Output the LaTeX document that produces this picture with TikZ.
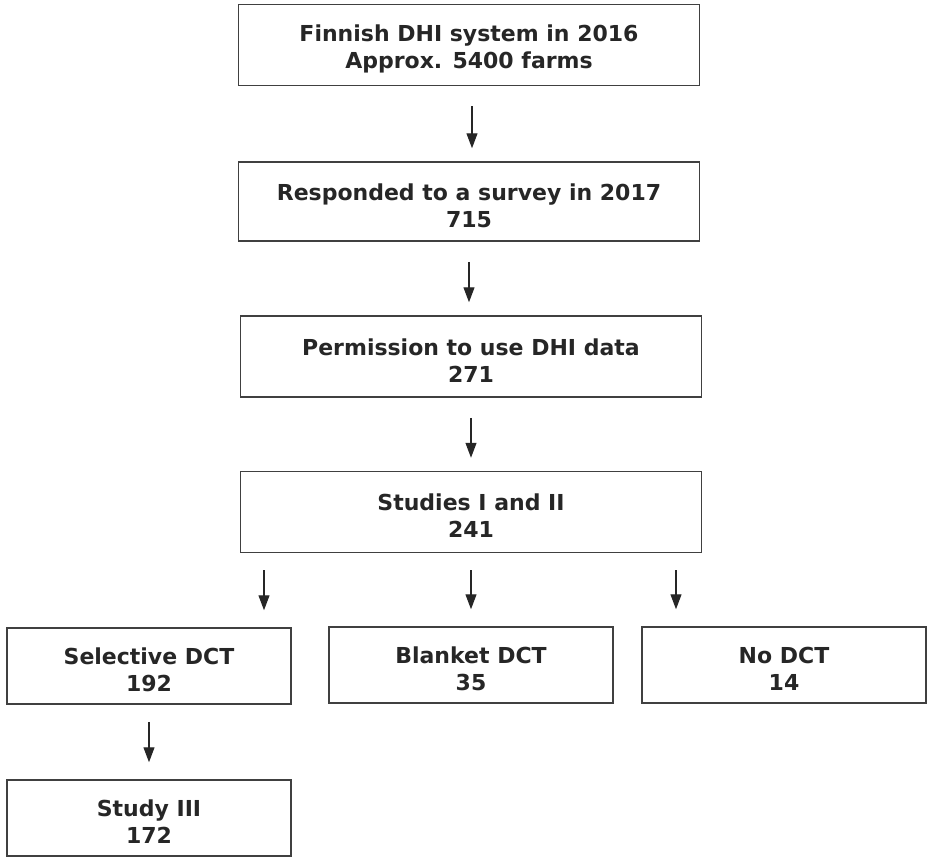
\documentclass[tikz,border=0pt]{standalone}
\usepackage{fontspec}
\setmainfont{DejaVu Sans}
\usetikzlibrary{arrows.meta}
\definecolor{boxline}{HTML}{404040}
\definecolor{boxtext}{HTML}{262626}
\newcommand{\lift}{\rule{0pt}{24.5pt}}
\tikzset{
    box/.style={draw=boxline,line width=1.5pt,inner sep=0pt,align=center,
        text=boxtext,font=\bfseries\fontsize{22}{27}\selectfont},
    wide/.style={box,minimum width=461pt,minimum height=81pt},
    small/.style={box,minimum width=284pt,minimum height=76pt},
    arr/.style={draw=boxtext,line width=1.2pt,-{Triangle[length=15pt,width=11pt]},
        shorten <=20pt,shorten >=13pt},
    arrb/.style={arr,shorten <=17pt,shorten >=17pt}
}
\begin{document}
\begin{tikzpicture}[x=1pt,y=-1pt]
    \useasboundingbox (0,0) rectangle (927,857);
    %Main chain
    \node[wide] (dhi) at (469,45) {\lift Finnish DHI system in 2016\\Approx. 5400 farms};
    \node[wide,minimum height=79pt] (survey) at (469,201.5) {\lift Responded to a survey in 2017\\715};
    \node[wide] (perm) at (471,356.5) {\lift Permission to use DHI data\\271};
    \node[wide] (studies) at (471,512) {\lift Studies I and II\\241};
    %Split
    \node[small] (sel) at (149,666) {\lift Selective DCT\\192};
    \node[small] (blank) at (471,665) {\lift Blanket DCT\\35};
    \node[small] (nodct) at (784,665) {\lift No DCT\\14};
    \node[small] (study3) at (149,818) {\lift Study III\\172};
    \draw[arr] ([xshift=3pt]dhi.south) -- ([xshift=3pt]dhi.south |- survey.north);
    \draw[arr] (survey.south) -- (survey.south |- perm.north);
    \draw[arr] (perm) -- (studies);
    \draw[arrb] ([xshift=-207pt]studies.south) -- ([xshift=-207pt]studies.south |- sel.north);
    \draw[arrb] (studies.south) -- (studies.south |- blank.north);
    \draw[arrb] ([xshift=205pt]studies.south) -- ([xshift=205pt]studies.south |- nodct.north);
    \draw[arrb] (sel) -- (study3);
\end{tikzpicture}
\end{document}
